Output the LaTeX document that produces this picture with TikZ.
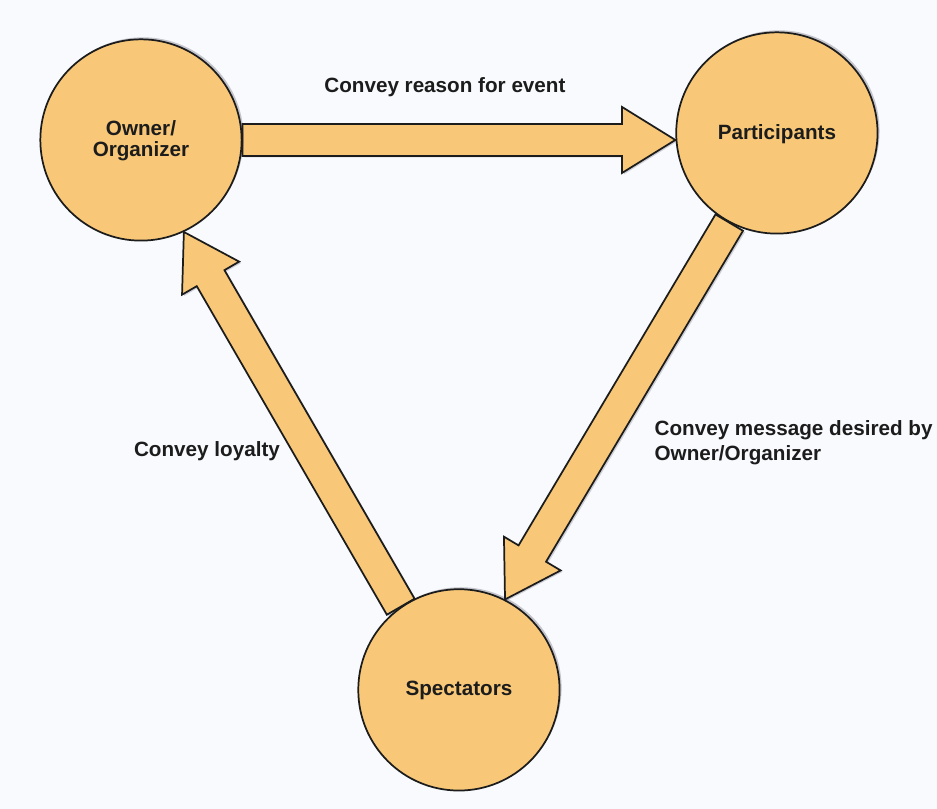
\documentclass[tikz,border=0pt]{standalone}
\usepackage{fontspec}
\setmainfont{Liberation Sans}
\usepackage{tikz}
\usetikzlibrary{calc,backgrounds,shadows}
\definecolor{peach}{HTML}{F8C878}
\definecolor{ink}{HTML}{1C1C1C}
\definecolor{paper}{HTML}{F8FAFD}
\definecolor{halo}{HTML}{2A2540}
\newcommand{\blockarrow}[2]{%
  \filldraw[fatarrow] let \p1=(#1), \p2=(#2),
    \n1={atan2(\y2-\y1,\x2-\x1)}, \n2={veclen(\x2-\x1,\y2-\y1)-40pt} in
    ($(\p1)+(\n1+90:12pt)$) -- ($(\p1)+(\n1:\n2)+(\n1+90:12pt)$)
    -- ($(\p1)+(\n1:\n2)+(\n1+90:24.75pt)$) -- (\p2)
    -- ($(\p1)+(\n1:\n2)+(\n1-90:24.75pt)$) -- ($(\p1)+(\n1:\n2)+(\n1-90:12pt)$)
    -- ($(\p1)+(\n1-90:12pt)$) -- cycle;}

\begin{document}
\begin{tikzpicture}[x=0.75pt,y=0.75pt,
  txt/.style={font=\bfseries\fontsize{15.5}{18.7}\selectfont,text=ink},
  party/.style={txt,font=\bfseries\fontsize{15.5}{16}\selectfont,circle,draw=ink,
    line width=1.3pt,fill=peach,minimum size=151pt,inner sep=0pt,align=center,
    text depth=2pt,
    drop shadow={shadow xshift=1.5pt,shadow yshift=1.5pt,opacity=0.25,fill=halo}},
  fatarrow/.style={draw=ink,line width=1.3pt,fill=peach,line join=miter,
    drop shadow={shadow xshift=1.5pt,shadow yshift=-1pt,opacity=0.2,fill=halo}},
  lbl/.style={txt,align=left}
]
\begin{scope}[on background layer]
\fill[paper] (0,0) rectangle (937,809);
\end{scope}
\node[party] (own) at (141,669) {Owner/\\Organizer};
\node[party] (part) at (777,676) {Participants};
\node[party] (spect) at (459,119) {Spectators};
\node[lbl] (reason) at (445,722) {Convey reason for event};
\node[lbl] (loyalty) at (207,358) {Convey loyalty};
\node[lbl,anchor=west] (message) at (650,366) {Convey message desired by\\Owner/Organizer};
\begin{scope}[on background layer]
\blockarrow{own.east}{own.east -| part.west}
\blockarrow{part.242}{spect.63}
\blockarrow{spect.125}{own.295}
\end{scope}
\end{tikzpicture}
\end{document}
